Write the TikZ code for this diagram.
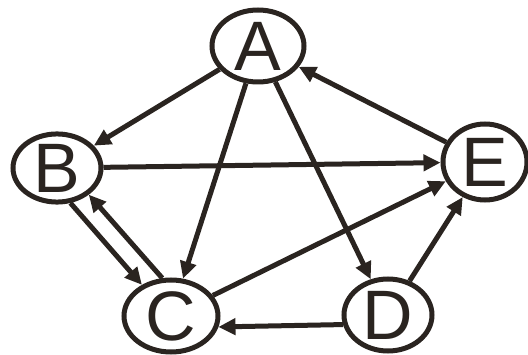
\documentclass[tikz,border=0pt]{standalone}
\usepackage{fontspec}
\setmainfont{Liberation Sans}
\usetikzlibrary{shapes.geometric,arrows.meta}
\definecolor{ink}{RGB}{42,36,32}
\begin{document}
\begin{tikzpicture}[x=1pt,y=-1pt,
  vert/.style={ellipse,draw=ink,line width=5pt,inner sep=0pt,text=ink,font=\fontsize{70}{70}\selectfont},
  edge/.style={draw=ink,line width=5pt,-{Triangle[length=17pt,width=16pt]}}]
\useasboundingbox (0,0) rectangle (528,355);
\node[vert,minimum width=92pt,minimum height=72pt] (A) at (258,46) {A};
\node[vert,minimum width=88pt,minimum height=68pt] (B) at (57,168) {B};
\node[vert,minimum width=94pt,minimum height=72pt] (C) at (171,316) {C};
\node[vert,minimum width=88pt,minimum height=72pt] (D) at (388,315) {D};
\node[vert,minimum width=84pt,minimum height=76pt] (E) at (485,162) {E};
\draw[edge] (A) -- (B);
\draw[edge] (A) -- (C);
\draw[edge] (A) -- (D);
\draw[edge] (E) -- (A);
\draw[edge] (B) -- (E);
\draw[edge] (B.-69) -- (C.133);
\draw[edge] (C.103) -- (B.-40);
\draw[edge] (C) -- (E);
\draw[edge] (D.192) -- (C.-13);
\draw[edge] (D) -- (E);
\end{tikzpicture}
\end{document}
